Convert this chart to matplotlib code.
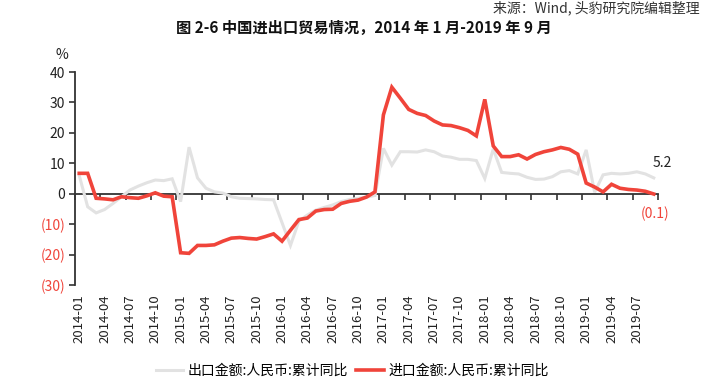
import numpy as np
import pandas as pd
import matplotlib
matplotlib.use('Agg')
import matplotlib.pyplot as plt

plt.rcParams['font.family'] = ['Noto Sans CJK SC', 'DejaVu Sans']
plt.rcParams['axes.unicode_minus'] = False

# 数据：2014-01 ~ 2019-09 累计同比 (%)
months = pd.date_range('2014-01', '2019-09', freq='MS').strftime('%Y-%m').tolist()
export_yoy = [6.0, -4.3, -6.3, -5.2, -3.2, -1.0, 1.2, 2.5, 3.6, 4.5, 4.3, 4.9,
              -2.6, 15.3, 5.2, 1.8, 0.6, 0.2, -1.0, -1.5, -1.6, -1.7, -1.9, -2.0,
              -9.5, -17.0, -9.0, -7.0, -5.4, -4.5, -3.7, -2.6, -1.9, -1.5, -1.1, -0.6,
              14.9, 9.4, 13.8, 13.8, 13.7, 14.4, 13.8, 12.4, 12.0, 11.3, 11.3, 10.9,
              5.0, 14.7, 7.0, 6.7, 6.5, 5.4, 4.7, 4.8, 5.6, 7.2, 7.6, 6.5,
              14.4, 0.5, 6.2, 6.7, 6.5, 6.7, 7.2, 6.5, 5.2]
import_yoy = [6.7, 6.7, -1.5, -1.7, -2.0, -1.0, -1.3, -1.5, -0.7, 0.3, -0.8, -1.0,
              -19.4, -19.6, -17.0, -17.0, -16.8, -15.6, -14.6, -14.4, -14.7, -14.9, -14.1, -13.2,
              -15.6, -12.0, -8.5, -8.0, -5.7, -5.2, -5.1, -3.2, -2.5, -2.1, -1.1, 0.6,
              25.9, 35.0, 31.4, 27.7, 26.4, 25.7, 23.9, 22.6, 22.4, 21.7, 20.8, 19.0,
              31.0, 15.7, 12.2, 12.2, 12.8, 11.4, 12.9, 13.8, 14.4, 15.2, 14.6, 13.0,
              3.5, 2.2, 0.6, 3.1, 1.8, 1.4, 1.2, 0.8, -0.1]
yticks = [-30, -20, -10, 0, 10, 20, 30, 40]
ytick_labels = ['(30)', '(20)', '(10)', '0', '10', '20', '30', '40']
export_name = '出口金额:人民币:累计同比'
import_name = '进口金额:人民币:累计同比'

red = '#f0443a'
gray = '#e2e2e2'
axc = '#333333'

fig = plt.figure(figsize=(7.28, 3.92), dpi=100)
ax = fig.add_axes([75 / 728, 1 - 285 / 392, 583 / 728, 213 / 392])

x = np.arange(len(months))
ax.plot(x, export_yoy, color=gray, linewidth=2.2, label=export_name, solid_joinstyle='miter')
ax.plot(x, import_yoy, color=red, linewidth=2.6, label=import_name, solid_joinstyle='miter')

ax.set_xlim(-0.5, len(months) - 0.5)
ax.set_ylim(-30, 40)

ax.set_yticks(yticks)
ax.set_yticklabels(ytick_labels, fontsize=10)
for lab, v in zip(ax.get_yticklabels(), yticks):
    lab.set_color(red if v < 0 else '#222222')
ax.tick_params(axis='y', direction='out', length=4, width=1.2, color=axc, pad=3)

ax.set_xticks(x[::3])
ax.set_xticklabels(months[::3], rotation=90, fontsize=9.5, color='#222222')
ax.tick_params(axis='x', length=0, pad=7)

for s in ['top', 'right', 'bottom']:
    ax.spines[s].set_visible(False)
ax.spines['left'].set_color(axc)
ax.spines['left'].set_linewidth(1.3)

# 零轴线及刻度
ymin, ymax = ax.get_ylim()
sec = ax.secondary_xaxis((0 - ymin) / (ymax - ymin))
sec.set_xticks(np.arange(-0.5, len(months), 3))
sec.tick_params(axis='x', direction='out', length=4, width=1.2, color=axc, labelbottom=False, labeltop=False)
for s in ['top', 'bottom']:
    sec.spines[s].set_color(axc)
    sec.spines[s].set_linewidth(1.3)

# 末值标注
ax.annotate(f'{export_yoy[-1]:.1f}', xy=(x[-1], export_yoy[-1]), xytext=(6, 11),
            textcoords='offset points', ha='center', va='center', fontsize=10, color='#222222')
last_imp = import_yoy[-1]
imp_txt = f'({abs(last_imp):.1f})' if last_imp < 0 else f'{last_imp:.1f}'
ax.annotate(imp_txt, xy=(x[-1], last_imp), xytext=(1, -14),
            textcoords='offset points', ha='center', va='center', fontsize=10, color=red)

fig.text(62 / 728, 1 - 55 / 392, '%', ha='center', va='center', fontsize=10, color='#222222')
fig.text(0.5, 1 - 28 / 392, '图 2-6 中国进出口贸易情况，2014 年 1 月-2019 年 9 月',
         ha='center', va='center', fontsize=11, fontweight='bold', color='#111111')
fig.text(700 / 728, 1 - 8 / 392, '来源：Wind, 头豹研究院编辑整理',
         ha='right', va='center', fontsize=10, style='italic', color='#333333')

fig.legend(loc='center', bbox_to_anchor=(352 / 728, 1 - 371 / 392), ncol=2, frameon=False,
           fontsize=10, handlelength=2.0, handletextpad=0.3, columnspacing=0.6)

fig.savefig('out.png', dpi=100)
